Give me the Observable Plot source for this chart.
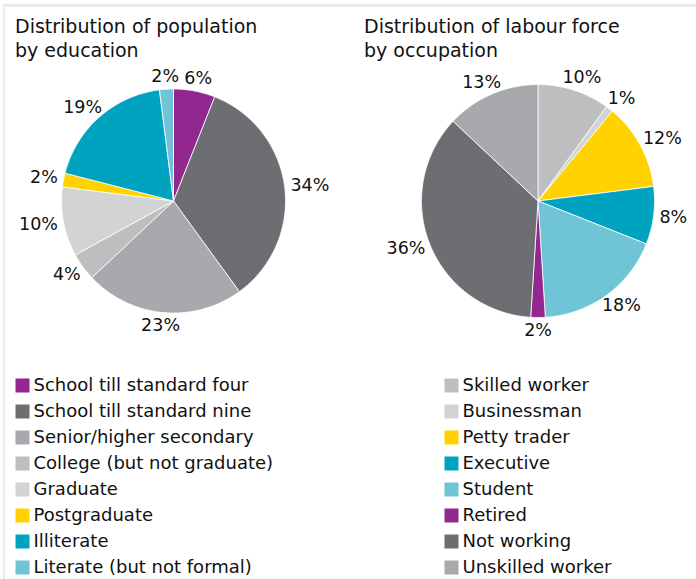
<!DOCTYPE html>
<html><head><meta charset="utf-8">
<script src="https://cdn.jsdelivr.net/npm/d3@7"></script>
<script src="https://cdn.jsdelivr.net/npm/@observablehq/plot@0.6"></script>
<style>
html,body{margin:0;padding:0;background:#fff;}
#page{position:relative;width:696px;height:579px;overflow:hidden;font-family:"DejaVu Sans",sans-serif;color:#111;}
#frame{position:absolute;left:3px;top:4px;right:0;bottom:0;border-top:3px solid #ebebeb;border-left:2px solid #ebebeb;}
.title{position:absolute;font-size:19px;line-height:24px;top:14px;z-index:2;white-space:nowrap;}
.plot{position:absolute;}
</style></head><body>
<div id="page">
  <div id="frame"></div>
  <div class="plot" id="pieL" style="left:0;top:0"></div>
  <div class="plot" id="pieR" style="left:348px;top:0"></div>
  <div class="plot" id="legL" style="left:0;top:360px"></div>
  <div class="plot" id="legR" style="left:348px;top:360px"></div>
  <div class="title" style="left:15px">Distribution of population<br>by education</div>
  <div class="title" style="left:364px">Distribution of labour force<br>by occupation</div>
</div>
<script>
const educationCategories = ["School till standard four","School till standard nine","Senior/higher secondary","College (but not graduate)","Graduate","Postgraduate","Illiterate","Literate (but not formal)"];
const educationShares = [6, 34, 23, 4, 10, 2, 19, 2];
const occupationCategories = ["Skilled worker","Businessman","Petty trader","Executive","Student","Retired","Not working","Unskilled worker"];
const occupationShares = [10, 1, 12, 8, 18, 2, 36, 13];

const palette = {purple:"#91278f", dark:"#6d6e71", mid:"#a7a9ac", light:"#bcbec0", pale:"#d1d3d4", yellow:"#ffd200", teal:"#00a3bf", aqua:"#6fc5d5"};
const educationColors = [palette.purple, palette.dark, palette.mid, palette.light, palette.pale, palette.yellow, palette.teal, palette.aqua];
const occupationColors = [palette.light, palette.pale, palette.yellow, palette.teal, palette.aqua, palette.purple, palette.dark, palette.mid];

const FONT = '"DejaVu Sans", sans-serif';
const INK = "#111";
const ctx = document.createElement("canvas").getContext("2d");
function textWidth(t, size){ ctx.font = `${size}px "DejaVu Sans"`; return ctx.measureText(t).width; }

function pie(cats, vals, colors, cx, cy, R){
  const total = d3.sum(vals);
  let acc = 0;
  const slices = cats.map((c,i)=>{const a0 = acc/total*2*Math.PI; acc += vals[i]; const a1 = acc/total*2*Math.PI; return {cat:c, value:vals[i], a0, a1};});
  const pts = [];
  for (const s of slices){
    pts.push({cat:s.cat, x:0, y:0});
    const n = Math.max(2, Math.ceil((s.a1-s.a0)/(Math.PI/360)));
    for (let k=0;k<=n;k++){ const a = s.a0+(s.a1-s.a0)*k/n; pts.push({cat:s.cat, x:Math.sin(a), y:Math.cos(a)}); }
    pts.push({cat:s.cat, x:0, y:0});
  }
  const fs = 17.5, h = 14, gap = 6;
  const labels = slices.map(s=>{
    const m = (s.a0+s.a1)/2, t = `${s.value}%`, w = textWidth(t, fs);
    const ux = Math.sin(m), uy = Math.cos(m);
    return {text:t, x:(ux*(R+gap)+ux*w/2)/R, y:(uy*(R+gap)+uy*h/2)/R};
  });
  return Plot.plot({
    width:348, height:350,
    x:{domain:[-1,1], range:[cx-R, cx+R]},
    y:{domain:[-1,1], range:[cy+R, cy-R]},
    axis:null,
    color:{domain:cats, range:colors},
    style:{background:"transparent", overflow:"visible"},
    marks:[
      Plot.line(pts, {x:"x", y:"y", z:"cat", fill:"cat", stroke:"white", strokeWidth:0.8, strokeLinejoin:"round"}),
      Plot.text(labels, {x:"x", y:"y", text:"text", fontSize:fs, fontFamily:FONT, fill:INK})
    ]
  });
}

function legend(cats, colors, swatchX, textX){
  return Plot.plot({
    width:348, height:219, margin:0,
    y:{type:"point", domain:cats, range:[24, 208.3], padding:0},
    axis:null,
    color:{domain:cats, range:colors},
    style:{background:"transparent"},
    marks:[
      Plot.dot(cats, {y:d=>d, fill:d=>d, symbol:"square", r:14/Math.sqrt(Math.PI), frameAnchor:"left", dx:swatchX}),
      Plot.text(cats, {y:d=>d, text:d=>d, frameAnchor:"left", dx:textX, textAnchor:"start", fontSize:18, fontFamily:FONT, fill:INK})
    ]
  });
}

document.getElementById("pieL").append(pie(educationCategories, educationShares, educationColors, 173, 200.5, 112));
document.getElementById("pieR").append(pie(occupationCategories, occupationShares, occupationColors, 189.5, 200.5, 116.5));
document.getElementById("legL").append(legend(educationCategories, educationColors, 22, 33));
document.getElementById("legR").append(legend(occupationCategories, occupationColors, 103, 114));
</script>
</body></html>
